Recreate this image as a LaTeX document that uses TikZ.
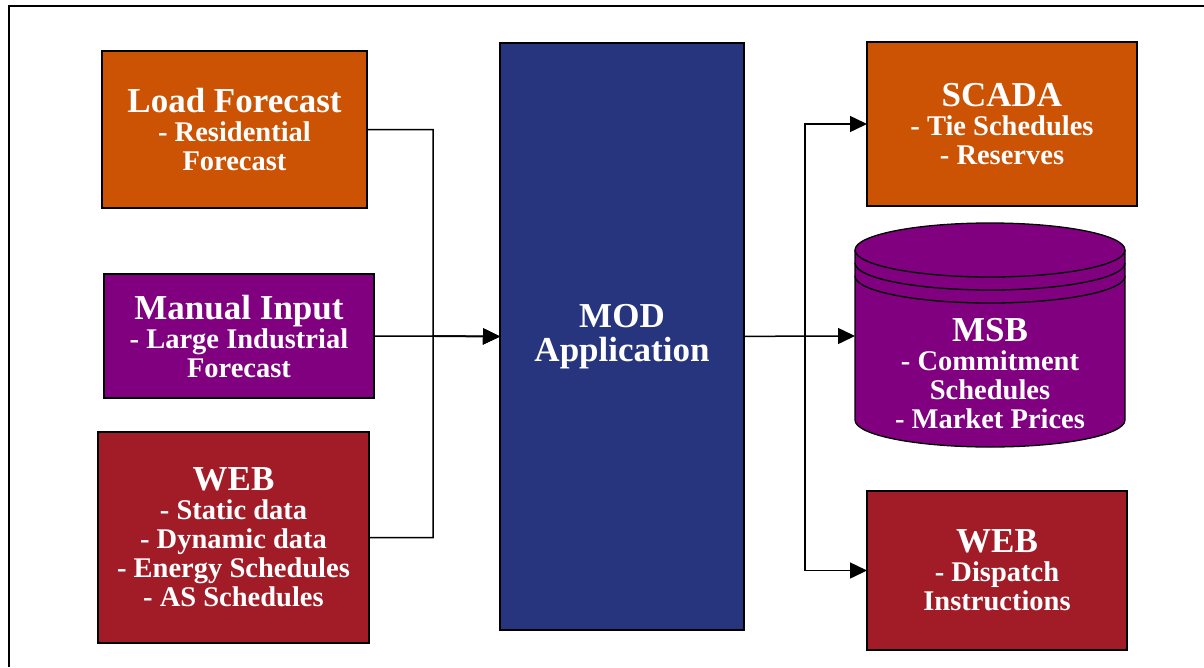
\documentclass[tikz,border=0pt]{standalone}
\usepackage{fontspec}
\setmainfont{Liberation Serif}
\usetikzlibrary{arrows.meta}

\definecolor{lforange}{RGB}{204,82,4}
\definecolor{mipurple}{RGB}{128,0,128}
\definecolor{webred}{RGB}{161,28,39}
\definecolor{modblue}{RGB}{39,53,127}

\newcommand\boxtitle{\fontsize{35}{34}\selectfont}
\newcommand\boxline{\fontsize{28.5}{29}\selectfont}

\begin{document}
\begin{tikzpicture}[x=1pt,y=-1pt,
  blk/.style={draw=black, line width=1.3pt, anchor=north west,
    inner sep=0pt, outer sep=0pt, text=white, align=center,
    font=\bfseries\boxline},
  wire/.style={line width=1.5pt},
  arr/.style={wire, -{Triangle[length=17pt,width=16pt]}},
  cyl/.style={draw=black, line width=1.3pt},
]
\useasboundingbox (0,0) rectangle (1204,667);

% page frame (top and left edges)
\draw[line width=2pt] (9,667) -- (9,6) -- (1204,6);

% input sources
\node[blk, fill=lforange, minimum width=265pt, minimum height=157pt] (lf) at (102,51)
  {{\boxtitle Load Forecast}\\- Residential\\Forecast};
\node[blk, fill=mipurple, minimum width=270pt, minimum height=124pt] (mi) at (104,274)
  {{\boxtitle Manual Input}\\- Large Industrial\\Forecast};
\node[blk, fill=webred, minimum width=271pt, minimum height=211pt] (webin) at (98,432)
  {{\boxtitle WEB}\\- Static data\\- Dynamic data\\- Energy Schedules\\- AS Schedules};

% central application
\node[blk, fill=modblue, minimum width=244pt, minimum height=587pt,
  font=\bfseries\boxtitle] (mod) at (500,43) {MOD\\Application};

% outputs
\node[blk, fill=lforange, minimum width=270pt, minimum height=164pt] (scada) at (867,42)
  {{\boxtitle SCADA}\\- Tie Schedules\\- Reserves};
\node[blk, fill=webred, minimum width=260pt, minimum height=159pt] (webout) at (867,491)
  {{\boxtitle WEB}\\- Dispatch\\Instructions};

% MSB database cylinder
\fill[mipurple] (855,250) -- (855,420)
  arc[start angle=180, end angle=360, x radius=135pt, y radius=27pt]
  -- (1125,250)
  arc[start angle=0, end angle=180, x radius=135pt, y radius=27pt] -- cycle;
\draw[cyl] (855,250) -- (855,420)
  arc[start angle=180, end angle=360, x radius=135pt, y radius=27pt]
  -- (1125,250);
\draw[cyl] (990,250) ellipse [x radius=135pt, y radius=27pt];
\draw[cyl] (855,263) arc[start angle=180, end angle=360, x radius=135pt, y radius=27pt];
\draw[cyl] (855,276) arc[start angle=180, end angle=360, x radius=135pt, y radius=27pt];
\node[text=white, align=center, font=\bfseries\boxline] (msb) at (990,374)
  {{\boxtitle MSB}\\- Commitment\\Schedules\\- Market Prices};
\coordinate (msbw) at (855,336);

% connectors
\coordinate (jl) at (433,336);
\coordinate (jr) at (805,336);
\draw[arr] (lf.east) -| (jl) -- (mod.west);
\draw[arr] (webin.east) -| (jl) -- (mod.west);
\draw[arr] (mi.east) -- (mod.west);
\draw[arr] (mod.east) -- (jr) -- (msbw);
\draw[arr] (jr) |- (scada.west);
\draw[arr] (jr) |- (webout.west);
\end{tikzpicture}
\end{document}
